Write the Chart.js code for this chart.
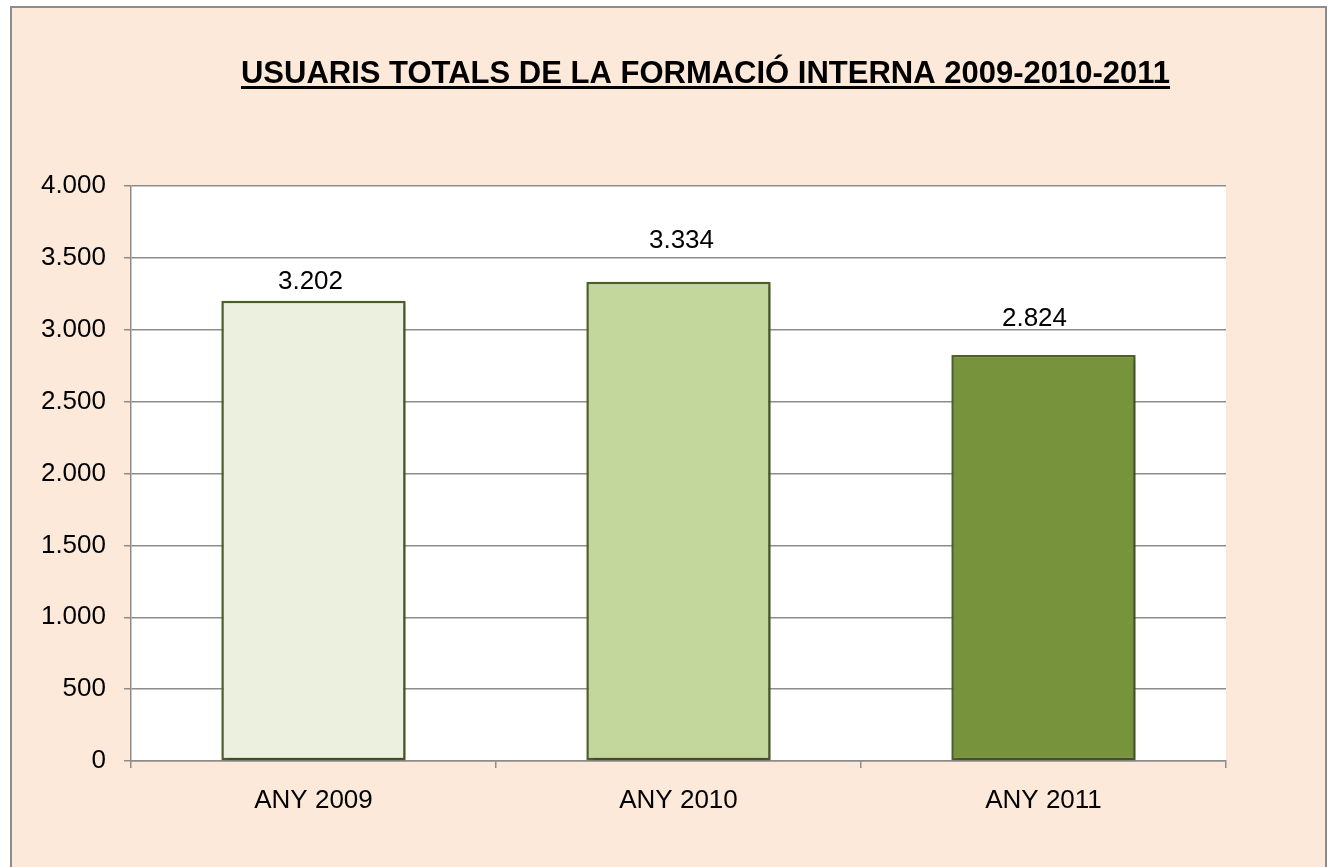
<!DOCTYPE html>
<html>
<head>
<meta charset="utf-8">
<script src="https://cdn.jsdelivr.net/npm/chart.js@4/dist/chart.umd.min.js"></script>
<style>
  html, body { margin: 0; padding: 0; background: #ffffff; overflow: hidden; width: 1328px; height: 867px; }
  #frame { position: absolute; left: 10px; top: 6px; width: 1313px; height: 1000px;
           border: 2px solid #8c8c8c; background: #FDE9D9; }
  #c { position: absolute; left: 0; top: 0; }
</style>
</head>
<body>
<div id="frame"></div>
<canvas id="c" width="1328" height="867"></canvas>
<script>
const categories = ['ANY 2009', 'ANY 2010', 'ANY 2011'];
const usuaris = [3202, 3334, 2824];
const barColors = ['#EBF1DE', '#C3D69B', '#77933C'];
const chartTitle = 'USUARIS TOTALS DE LA FORMACIÓ INTERNA 2009-2010-2011';
const yMin = 0, yMax = 4000, yStep = 500;

function fmt(v) {
  return String(Math.round(v)).replace(/\B(?=(\d{3})+(?!\d))/g, '.');
}

const FONT = '"Liberation Sans", Arial, sans-serif';

const bgPlugin = {
  id: 'bg',
  beforeDraw(chart) {
    const { ctx, chartArea: a } = chart;
    ctx.save();
    ctx.fillStyle = '#ffffff';
    ctx.fillRect(a.left, a.top, a.right - a.left, a.bottom - a.top);
    ctx.restore();
  }
};

const shadowPlugin = {
  id: 'shadow',
  beforeDatasetsDraw(chart) {
    const ctx = chart.ctx;
    ctx.save();
    ctx.shadowColor = 'rgba(0,0,0,0.3)';
    ctx.shadowBlur = 5;
    ctx.shadowOffsetX = 2;
    ctx.shadowOffsetY = 2;
  },
  afterDatasetsDraw(chart) {
    chart.ctx.restore();
  }
};

const labelPlugin = {
  id: 'vlabels',
  afterDatasetsDraw(chart, args, opts) {
    const ctx = chart.ctx;
    const meta = chart.getDatasetMeta(0);
    ctx.save();
    ctx.font = '26px ' + FONT;
    ctx.fillStyle = '#000000';
    ctx.textAlign = 'center';
    ctx.textBaseline = 'alphabetic';
    meta.data.forEach((el, i) => {
      const v = chart.data.datasets[0].data[i];
      const dx = opts.dx[i] || 0;
      const gap = opts.gap[i] || 12;
      ctx.fillText(fmt(v), el.x + dx, el.y - gap);
    });
    ctx.restore();
  }
};

const titlePlugin = {
  id: 'utitle',
  afterDraw(chart, args, opts) {
    const ctx = chart.ctx;
    ctx.save();
    ctx.font = 'bold 31px ' + FONT;
    ctx.fillStyle = '#000000';
    ctx.textAlign = 'center';
    ctx.textBaseline = 'alphabetic';
    ctx.fillText(opts.text, opts.x, opts.y);
    const w = ctx.measureText(opts.text).width;
    ctx.fillRect(opts.x - w / 2, opts.y + 3, w, 3);
    ctx.restore();
  }
};

new Chart(document.getElementById('c'), {
  type: 'bar',
  data: {
    labels: categories,
    datasets: [{
      data: usuaris,
      backgroundColor: barColors,
      borderColor: '#4F6228',
      borderWidth: 2.5,
      borderSkipped: false,
      barPercentage: 0.505,
      categoryPercentage: 1.0
    }]
  },
  options: {
    responsive: false,
    animation: false,
    events: [],
    layout: { padding: { left: 0, top: 186, right: 102, bottom: 0 } },
    plugins: {
      legend: { display: false },
      title: { display: false },
      tooltip: { enabled: false },
      vlabels: { dx: [-3, 3, -9], gap: [12, 34, 29] },
      utitle: { text: chartTitle, x: 705.5, y: 83 }
    },
    scales: {
      y: {
        min: yMin, max: yMax,
        afterFit(s) { s.width = 131; },
        ticks: {
          stepSize: yStep,
          padding: 18,
          color: '#000000',
          font: { family: FONT, size: 26 },
          callback: v => fmt(v)
        },
        grid: { color: '#8c8c8c', lineWidth: 1.5, tickLength: 7 },
        border: { display: true, color: '#8c8c8c', width: 1.5 }
      },
      x: {
        afterFit(s) { s.height = 106; },
        ticks: {
          padding: 17,
          color: '#000000',
          font: { family: FONT, size: 26 }
        },
        grid: { drawOnChartArea: false, drawTicks: true, tickLength: 7, color: '#8c8c8c', lineWidth: 1.5, offset: true },
        border: { display: true, color: '#8c8c8c', width: 1.5 }
      }
    }
  },
  plugins: [bgPlugin, shadowPlugin, labelPlugin, titlePlugin]
});
</script>
</body>
</html>
